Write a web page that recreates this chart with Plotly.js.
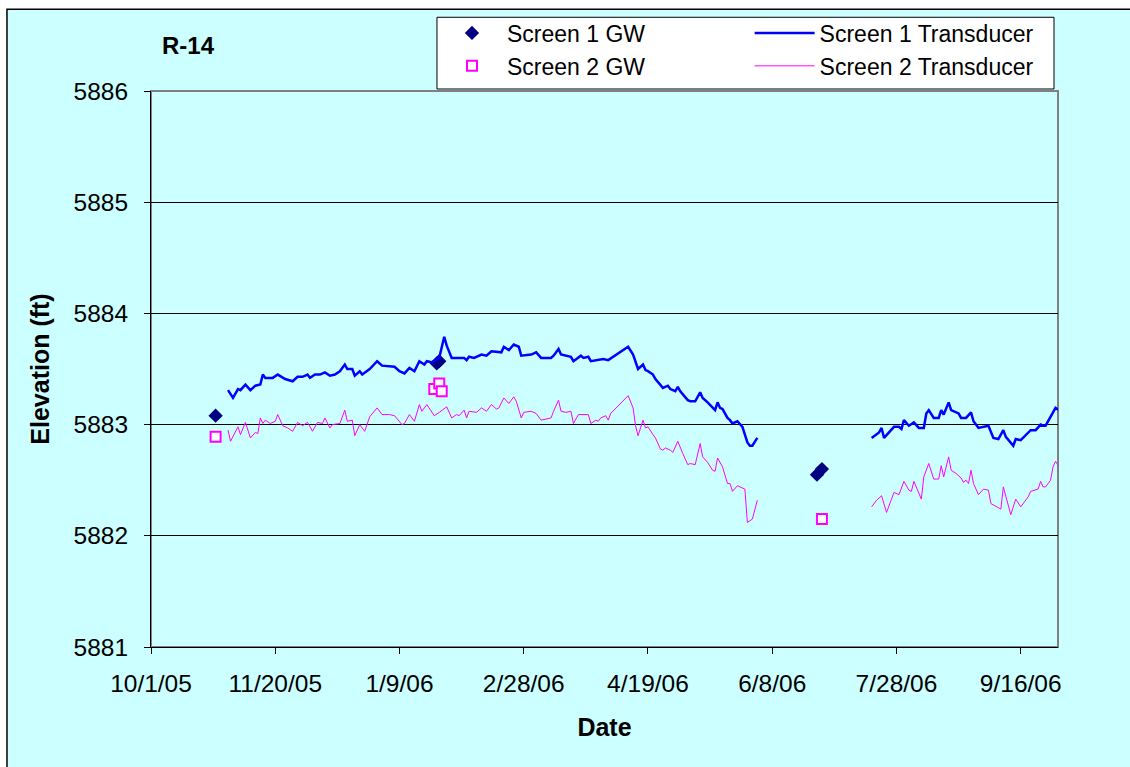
<!DOCTYPE html>
<html>
<head>
<meta charset="utf-8">
<script src="https://cdn.plot.ly/plotly-3.0.1.min.js"></script>
<style>html,body{margin:0;padding:0;background:#fff;}#chart{width:1130px;height:767px;}</style>
</head>
<body>
<div id="chart"></div>
<script>
// ---- data ----
const chartTitle = "R-14";
const xTickVals = ["2005-10-01","2005-11-20","2006-01-09","2006-02-28","2006-04-19","2006-06-08","2006-07-28","2006-09-16"];
const xTickText = ["10/1/05","11/20/05","1/9/06","2/28/06","4/19/06","6/8/06","7/28/06","9/16/06"];
const yTickVals = [5881, 5882, 5883, 5884, 5885, 5886];

const s1GwDates = ["2005-10-27","2006-01-24","2006-01-25","2006-06-26","2006-06-28"];
const s1GwValues = [5883.08, 5883.55, 5883.57, 5882.55, 5882.60];

const s2GwDates = ["2005-10-27","2006-01-23","2006-01-25","2006-01-26","2006-06-28"];
const s2GwValues = [5882.89, 5883.32, 5883.37, 5883.30, 5882.15];

const s1TDates = [
"2005-11-01","2005-11-03","2005-11-05","2005-11-06","2005-11-08","2005-11-10","2005-11-12","2005-11-14","2005-11-15","2005-11-16",
"2005-11-19","2005-11-21","2005-11-24","2005-11-27","2005-11-29","2005-12-01","2005-12-03","2005-12-04","2005-12-06","2005-12-08",
"2005-12-10","2005-12-12","2005-12-14","2005-12-16","2005-12-18","2005-12-19","2005-12-21","2005-12-22","2005-12-24","2005-12-25",
"2005-12-28","2005-12-31","2006-01-02","2006-01-07","2006-01-09","2006-01-11","2006-01-13","2006-01-15","2006-01-17","2006-01-19",
"2006-01-20","2006-01-22","2006-01-25","2006-01-27","2006-01-28","2006-01-30","2006-02-02","2006-02-04","2006-02-05","2006-02-06",
"2006-02-08","2006-02-11","2006-02-13","2006-02-15","2006-02-19","2006-02-20","2006-02-22","2006-02-24","2006-02-26","2006-02-27",
"2006-03-03","2006-03-05","2006-03-07","2006-03-11","2006-03-12","2006-03-14","2006-03-15","2006-03-19","2006-03-20","2006-03-23",
"2006-03-24","2006-03-26","2006-03-27","2006-03-30","2006-04-01","2006-04-03","2006-04-11","2006-04-13","2006-04-14","2006-04-15",
"2006-04-17","2006-04-18","2006-04-19","2006-04-21","2006-04-22","2006-04-24","2006-04-25","2006-04-27","2006-04-28","2006-04-30",
"2006-05-01","2006-05-02","2006-05-03","2006-05-05","2006-05-06","2006-05-08","2006-05-10","2006-05-11","2006-05-13","2006-05-15",
"2006-05-16","2006-05-17","2006-05-18","2006-05-19","2006-05-21","2006-05-22","2006-05-23","2006-05-25","2006-05-26","2006-05-27",
"2006-05-29","2006-05-30","2006-05-31","2006-06-02","2006-07-01",
"2006-07-18","2006-07-20","2006-07-21","2006-07-22","2006-07-23","2006-07-25","2006-07-27","2006-07-29","2006-07-30","2006-07-31",
"2006-08-02","2006-08-04","2006-08-06","2006-08-08","2006-08-09","2006-08-10","2006-08-12","2006-08-14","2006-08-15","2006-08-16",
"2006-08-18","2006-08-19","2006-08-22","2006-08-23","2006-08-25","2006-08-27","2006-08-28","2006-08-30","2006-09-02","2006-09-03",
"2006-09-05","2006-09-07","2006-09-09","2006-09-10","2006-09-13","2006-09-14","2006-09-16","2006-09-20","2006-09-22","2006-09-24",
"2006-09-25","2006-09-26","2006-09-29","2006-09-30","2006-10-02","2006-10-04"];
const s1TValues = [
5883.31,5883.24,5883.32,5883.31,5883.36,5883.31,5883.35,5883.36,5883.45,5883.42,
5883.42,5883.45,5883.41,5883.39,5883.43,5883.43,5883.45,5883.42,5883.45,5883.45,
5883.47,5883.44,5883.45,5883.48,5883.54,5883.50,5883.50,5883.44,5883.48,5883.45,
5883.50,5883.57,5883.53,5883.52,5883.48,5883.46,5883.51,5883.48,5883.57,5883.54,
5883.57,5883.56,5883.60,5883.79,5883.71,5883.60,5883.60,5883.60,5883.58,5883.61,
5883.60,5883.63,5883.62,5883.66,5883.65,5883.70,5883.67,5883.72,5883.70,5883.62,
5883.63,5883.65,5883.60,5883.60,5883.62,5883.68,5883.63,5883.61,5883.57,5883.62,
5883.60,5883.61,5883.57,5883.58,5883.59,5883.58,5883.70,5883.63,5883.57,5883.50,
5883.54,5883.49,5883.48,5883.45,5883.41,5883.36,5883.33,5883.35,5883.32,5883.30,
5883.34,5883.30,5883.27,5883.22,5883.21,5883.21,5883.29,5883.24,5883.20,5883.15,
5883.13,5883.20,5883.15,5883.14,5883.06,5883.04,5883.01,5883.03,5883.00,5882.98,
5882.84,5882.81,5882.81,5882.88,null,
5882.88,5882.91,5882.93,5882.97,5882.88,5882.93,5882.98,5882.98,5882.96,5883.04,
5882.99,5883.02,5882.97,5882.97,5883.10,5883.13,5883.06,5883.06,5883.13,5883.09,
5883.20,5883.13,5883.10,5883.06,5883.06,5883.11,5883.03,5882.97,5882.99,5882.99,
5882.88,5882.87,5882.95,5882.89,5882.81,5882.87,5882.86,5882.95,5882.95,5883.00,
5882.99,5882.99,5883.11,5883.15,5883.12,5883.23];

const s2TDates = [
"2005-11-01","2005-11-02","2005-11-05","2005-11-06","2005-11-08","2005-11-10","2005-11-12","2005-11-13","2005-11-14","2005-11-15",
"2005-11-16","2005-11-18","2005-11-20","2005-11-21","2005-11-23","2005-11-25","2005-11-27","2005-11-29","2005-12-01","2005-12-03",
"2005-12-05","2005-12-07","2005-12-09","2005-12-10","2005-12-12","2005-12-13","2005-12-16","2005-12-18","2005-12-19","2005-12-21",
"2005-12-22","2005-12-24","2005-12-26","2005-12-28","2005-12-31","2006-01-02","2006-01-05","2006-01-07","2006-01-10","2006-01-11",
"2006-01-13","2006-01-15","2006-01-17","2006-01-18","2006-01-20","2006-01-23","2006-01-25","2006-01-28","2006-01-30","2006-02-01",
"2006-02-02","2006-02-04","2006-02-05","2006-02-06","2006-02-09","2006-02-11","2006-02-13","2006-02-15","2006-02-17","2006-02-18",
"2006-02-20","2006-02-22","2006-02-24","2006-02-25","2006-02-27","2006-02-28","2006-03-03","2006-03-05","2006-03-07","2006-03-11",
"2006-03-12","2006-03-14","2006-03-15","2006-03-17","2006-03-19","2006-03-20","2006-03-22","2006-03-24","2006-03-26","2006-03-27",
"2006-03-29","2006-03-30","2006-03-31","2006-04-02","2006-04-03","2006-04-04","2006-04-11","2006-04-13","2006-04-14","2006-04-15",
"2006-04-17","2006-04-18","2006-04-19","2006-04-21","2006-04-22","2006-04-24","2006-04-25","2006-04-26","2006-04-28","2006-04-29",
"2006-05-01","2006-05-03","2006-05-05","2006-05-06","2006-05-08","2006-05-10","2006-05-11","2006-05-13","2006-05-15","2006-05-16",
"2006-05-17","2006-05-19","2006-05-21","2006-05-22","2006-05-23","2006-05-25","2006-05-27","2006-05-28","2006-05-29","2006-05-31",
"2006-06-02","2006-07-01",
"2006-07-18","2006-07-20","2006-07-22","2006-07-24","2006-07-27","2006-07-29","2006-07-31","2006-08-02","2006-08-03","2006-08-04",
"2006-08-07","2006-08-08","2006-08-10","2006-08-12","2006-08-14","2006-08-15","2006-08-16","2006-08-18","2006-08-19","2006-08-21",
"2006-08-23","2006-08-24","2006-08-25","2006-08-26","2006-08-27","2006-08-28","2006-08-30","2006-09-01","2006-09-03","2006-09-04",
"2006-09-08","2006-09-09","2006-09-12","2006-09-14","2006-09-16","2006-09-19","2006-09-20","2006-09-23","2006-09-24","2006-09-25",
"2006-09-26","2006-09-28","2006-09-29","2006-09-30","2006-10-02","2006-10-04"];
const s2TValues = [
5882.95,5882.85,5882.98,5882.91,5883.02,5882.88,5882.93,5882.92,5883.06,5883.01,
5883.04,5883.01,5883.03,5883.09,5882.99,5882.97,5882.94,5883.02,5882.99,5883.02,
5882.94,5883.02,5883.01,5883.06,5882.97,5883.00,5883.01,5883.13,5883.03,5883.04,
5882.90,5883.00,5882.94,5883.07,5883.15,5883.09,5883.09,5883.08,5883.00,5883.01,
5883.09,5883.03,5883.18,5883.12,5883.18,5883.08,5883.11,5883.16,5883.06,5883.09,
5883.08,5883.13,5883.06,5883.12,5883.11,5883.15,5883.12,5883.18,5883.14,5883.15,
5883.24,5883.19,5883.25,5883.21,5883.06,5883.11,5883.12,5883.10,5883.04,5883.06,
5883.12,5883.22,5883.12,5883.11,5883.12,5883.01,5883.09,5883.09,5883.09,5883.01,
5883.04,5883.03,5883.06,5883.08,5883.04,5883.10,5883.26,5883.15,5882.99,5882.90,
5883.04,5882.97,5882.98,5882.91,5882.88,5882.78,5882.77,5882.79,5882.77,5882.75,
5882.85,5882.74,5882.64,5882.65,5882.64,5882.83,5882.71,5882.66,5882.59,5882.58,
5882.70,5882.62,5882.47,5882.47,5882.40,5882.45,5882.43,5882.42,5882.12,5882.15,
5882.32,null,
5882.26,5882.32,5882.36,5882.21,5882.39,5882.37,5882.49,5882.41,5882.40,5882.49,
5882.33,5882.53,5882.65,5882.51,5882.51,5882.63,5882.53,5882.71,5882.59,5882.56,
5882.52,5882.48,5882.50,5882.47,5882.59,5882.47,5882.37,5882.42,5882.41,5882.29,
5882.24,5882.44,5882.19,5882.33,5882.26,5882.35,5882.40,5882.42,5882.49,5882.44,
5882.44,5882.50,5882.62,5882.67,5882.60,5882.77];

// ---- chart ----
const FONT = "Liberation Sans, Arial, Helvetica, sans-serif";
const BG = "#CCFFFF";

const traces = [
  { type: "scatter", mode: "markers", name: "Screen 1 GW", x: s1GwDates, y: s1GwValues,
    marker: { symbol: "diamond", size: 11, color: "#000080" }, legend: "legend" },
  { type: "scatter", mode: "markers", name: "Screen 2 GW", x: s2GwDates, y: s2GwValues,
    marker: { symbol: "square", size: 10, color: "#FFFFFF", line: { color: "#FF00FF", width: 2 } }, legend: "legend" },
  { type: "scatter", mode: "lines", name: "Screen 1 Transducer", x: s1TDates, y: s1TValues,
    line: { color: "#0000FF", width: 2.5 }, connectgaps: false, legend: "legend2" },
  { type: "scatter", mode: "lines", name: "Screen 2 Transducer", x: s2TDates, y: s2TValues,
    line: { color: "#FF00FF", width: 1 }, connectgaps: false, legend: "legend2" }
];

const layout = {
  width: 1130, height: 767,
  margin: { l: 151, r: 72, t: 89, b: 120, pad: 0 },
  paper_bgcolor: "#FFFFFF",
  plot_bgcolor: "rgba(0,0,0,0)",
  font: { family: FONT, color: "#000000", size: 24 },
  title: { text: "<b>" + chartTitle + "</b>", font: { family: FONT, size: 24, color: "#000" },
           xref: "container", yref: "container", x: 0.1664, y: 0.94, xanchor: "center", yanchor: "middle" },
  showlegend: true,
  legend: { x: 0.3153, y: 1.143, xanchor: "left", yanchor: "top", bgcolor: "rgba(0,0,0,0)",
            borderwidth: 0, itemwidth: 60, font: { family: FONT, size: 23, color: "#000" } },
  legend2: { x: 0.660, y: 1.143, xanchor: "left", yanchor: "top", bgcolor: "rgba(0,0,0,0)",
             borderwidth: 0, itemwidth: 60, font: { family: FONT, size: 23, color: "#000" } },
  xaxis: {
    type: "date", range: ["2005-10-01", "2006-10-01"],
    tickmode: "array", tickvals: xTickVals, ticktext: xTickText,
    ticks: "outside", ticklen: 6, tickwidth: 1, tickcolor: "#000",
    showline: true, linecolor: "#000", linewidth: 1, mirror: false,
    showgrid: false, zeroline: false, ticklabelstandoff: 9,
    tickfont: { family: FONT, size: 24.5, color: "#000" },
    title: { text: "<b>Date</b>", font: { family: FONT, size: 25, color: "#000" }, standoff: 22 },
    automargin: false, fixedrange: true
  },
  yaxis: {
    range: [5881, 5886], tickmode: "array", tickvals: yTickVals,
    ticks: "outside", ticklen: 6, tickwidth: 1, tickcolor: "#000",
    showline: true, linecolor: "#000", linewidth: 1,
    showgrid: true, gridcolor: "#000", gridwidth: 1, zeroline: false, ticklabelstandoff: 11,
    tickfont: { family: FONT, size: 24.5, color: "#000" },
    title: { text: "<b>Elevation (ft)</b>", font: { family: FONT, size: 25, color: "#000" }, standoff: 16 },
    automargin: false, fixedrange: true
  },
  shapes: [
    { type: "rect", xref: "paper", yref: "paper", x0: -0.1588, x1: 1.095, y0: -0.24, y1: 1.147,
      fillcolor: BG, line: { color: "#000", width: 1.5 }, layer: "below" },
    { type: "rect", xref: "paper", yref: "paper", x0: 0, x1: 1, y0: 0, y1: 1,
      fillcolor: "rgba(0,0,0,0)", line: { color: "#808080", width: 2 }, layer: "below" },
    { type: "rect", xref: "paper", yref: "paper", x0: 0.3153, x1: 0.9956, y0: 1.0036, y1: 1.1326,
      fillcolor: "#FFFFFF", line: { color: "#000", width: 1 }, layer: "below" }
  ]
};

Plotly.newPlot("chart", traces, layout, { staticPlot: true, displayModeBar: false });
</script>
</body>
</html>
